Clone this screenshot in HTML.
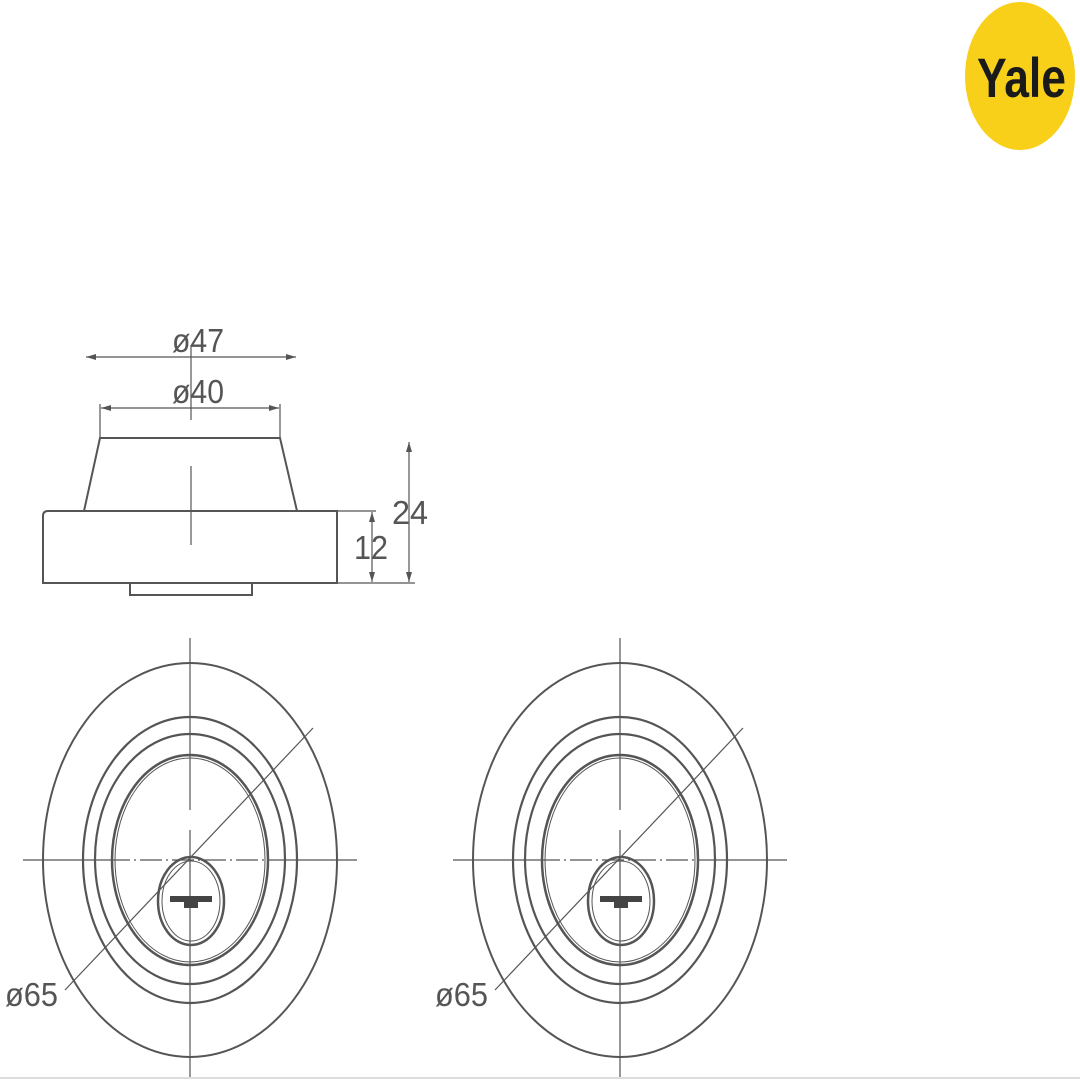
<!DOCTYPE html>
<html><head><style>body{margin:0;background:#fff}svg{display:block}</style></head>
<body>
<svg width="1080" height="1080" viewBox="0 0 1080 1080" xmlns="http://www.w3.org/2000/svg" font-family="Liberation Sans, sans-serif">
<defs>
<marker id="a" viewBox="0 0 10 6" refX="10" refY="3" markerWidth="10" markerHeight="6" orient="auto-start-reverse" markerUnits="userSpaceOnUse"><path d="M0,0 L10,3 L0,6z" fill="#555"/></marker>
<g id="front" fill="none" stroke="#555">
<line x1="190" y1="638" x2="190" y2="810" stroke-width="1.2"/>
<line x1="190" y1="830" x2="190" y2="1078" stroke-width="1.2"/>
<line x1="23" y1="860" x2="108" y2="860" stroke-width="1.2"/>
<line x1="272" y1="860" x2="357" y2="860" stroke-width="1.2"/>
<line x1="108" y1="860" x2="272" y2="860" stroke-width="1.2" stroke-dasharray="22,4,2,4"/>
<ellipse cx="190" cy="860" rx="147" ry="197" stroke-width="2"/>
<ellipse cx="190" cy="860" rx="107" ry="143" stroke-width="2.2"/>
<ellipse cx="190" cy="859" rx="95" ry="125" stroke-width="2.2"/>
<ellipse cx="190" cy="860" rx="78" ry="105" stroke-width="2.5"/>
<ellipse cx="190" cy="860" rx="75" ry="102" stroke-width="1"/>
<ellipse cx="191" cy="901" rx="33" ry="44" stroke-width="2.5"/>
<ellipse cx="191" cy="901" rx="29" ry="40" stroke-width="1"/>
<rect x="170" y="896" width="42" height="6" fill="#444" stroke="none"/>
<rect x="184" y="902" width="14" height="6" fill="#444" stroke="none"/>
<line x1="65" y1="990" x2="313" y2="728" stroke-width="1.2"/>
</g>
</defs>
<ellipse cx="1020" cy="76" rx="55" ry="74" fill="#f8d01a"/>
<text x="977" y="97" font-size="56" font-weight="bold" fill="#1a1a1a" textLength="89" lengthAdjust="spacingAndGlyphs">Yale</text>
<g fill="none" stroke="#555" stroke-width="2">
<path d="M100,438 L280,438 L297,511 L84,511 Z"/>
<path d="M48,511 L337,511 L337,583 L43,583 L43,516 Q43,511 48,511Z"/>
<path d="M130,583 L130,595 L252,595 L252,583"/>
</g>
<g stroke="#555" stroke-width="1.2" fill="none">
<line x1="191" y1="345" x2="191" y2="420"/>
<line x1="191" y1="466" x2="191" y2="545"/>
<line x1="86" y1="357" x2="296" y2="357" marker-start="url(#a)" marker-end="url(#a)"/>
<line x1="101" y1="408" x2="279" y2="408" marker-start="url(#a)" marker-end="url(#a)"/>
<line x1="100" y1="404" x2="100" y2="438"/>
<line x1="280" y1="404" x2="280" y2="438"/>
<line x1="337" y1="511" x2="376" y2="511"/>
<line x1="337" y1="583" x2="415" y2="583"/>
<line x1="372" y1="512" x2="372" y2="582" marker-start="url(#a)" marker-end="url(#a)"/>
<line x1="409" y1="442" x2="409" y2="582" marker-start="url(#a)" marker-end="url(#a)"/>
</g>
<g fill="#555" font-size="33">
<text x="198" y="352" text-anchor="middle" textLength="52" lengthAdjust="spacingAndGlyphs">ø47</text>
<text x="198" y="403" text-anchor="middle" textLength="52" lengthAdjust="spacingAndGlyphs">ø40</text>
<text x="392" y="524" textLength="36" lengthAdjust="spacingAndGlyphs">24</text>
<text x="354" y="559" textLength="34" lengthAdjust="spacingAndGlyphs">12</text>
<text x="5" y="1006" textLength="53" lengthAdjust="spacingAndGlyphs">ø65</text>
<text x="435" y="1006" textLength="53" lengthAdjust="spacingAndGlyphs">ø65</text>
</g>
<use href="#front"/>
<use href="#front" transform="translate(430,0)"/>
<line x1="0" y1="1078" x2="1080" y2="1078" stroke="#ddd" stroke-width="2"/>
</svg>
</body></html>
